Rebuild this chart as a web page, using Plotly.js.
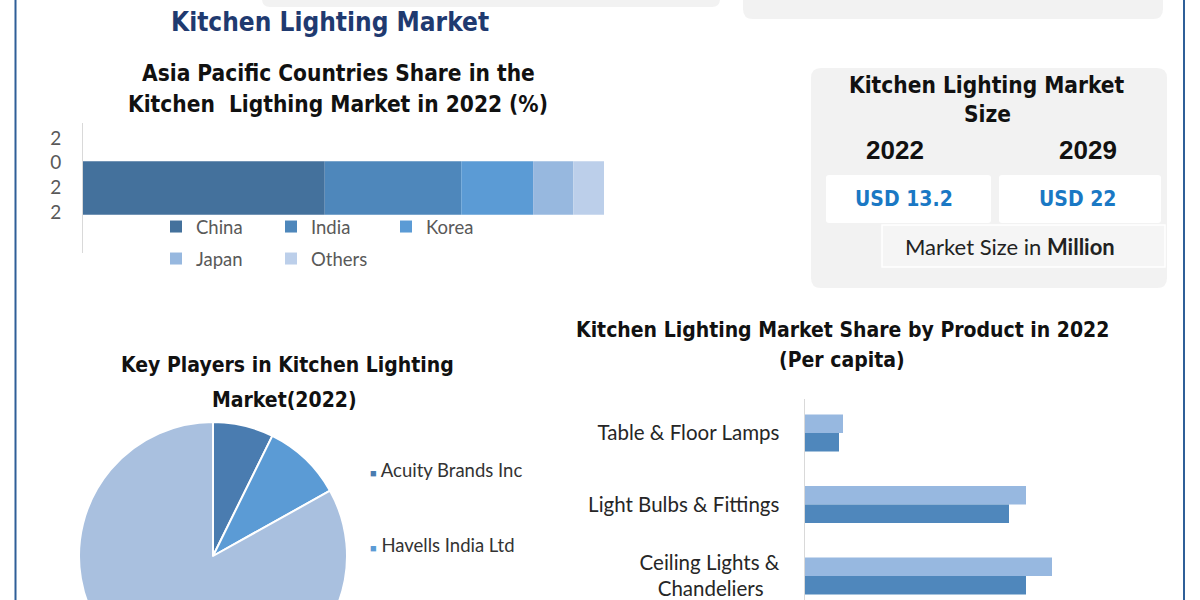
<!DOCTYPE html>
<html>
<head>
<meta charset="utf-8">
<script src="https://cdn.plot.ly/plotly-3.0.1.min.js"></script>
<style>
  html, body { margin: 0; padding: 0; overflow: hidden; background: #fff; }
  #chart { width: 1200px; height: 720px; }
</style>
</head>
<body>
<div id="chart"></div>
<script>
// Asia Pacific share (%) - stacked bar
const countries = ['China', 'India', 'Korea', 'Japan', 'Others'];
const countryShare = [46.4, 26.2, 13.8, 7.7, 5.9];
const countryYear = '2<br>0<br>2<br>2';

// key players pie (only the first two legend rows are visible)
const players = ['Acuity Brands Inc', 'Havells India Ltd', 'Others'];
const playerShare = [7.3, 9.6, 83.1];

// product share bars
const products = ['Table & Floor Lamps', 'Light Bulbs & Fittings', 'Ceiling Lights &<br>Chandeliers\u00a0\u00a0\u00a0'];
const productLight = [1.52, 8.84, 9.88];
const productDark = [1.36, 8.16, 8.84];

// market size box
const sizeYears = ['2022', '2029'];
const sizeValues = ['USD 13.2', 'USD 22'];

const W = 1200, H = 720, VIEW_H = 600;
const fx = p => p / W;
const fy = p => 1 - p / H;

const NARROW = '"Liberation Sans Narrow", "Arial Narrow", "DejaVu Sans Condensed", "Liberation Sans", sans-serif';
const BODY = 'Lato, "Open Sans", sans-serif';

const countryColors = ['#44719c', '#4e87bb', '#5b9bd5', '#97b8df', '#bccfea'];
const pieColors = ['#4a7cb0', '#5b9bd5', '#a9c0df'];

function roundRect(x0, y0, x1, y1, r) {
  const X = fx, Y = fy;
  return 'M' + X(x0 + r) + ',' + Y(y0) +
    ' L' + X(x1 - r) + ',' + Y(y0) +
    ' Q' + X(x1) + ',' + Y(y0) + ' ' + X(x1) + ',' + Y(y0 + r) +
    ' L' + X(x1) + ',' + Y(y1 - r) +
    ' Q' + X(x1) + ',' + Y(y1) + ' ' + X(x1 - r) + ',' + Y(y1) +
    ' L' + X(x0 + r) + ',' + Y(y1) +
    ' Q' + X(x0) + ',' + Y(y1) + ' ' + X(x0) + ',' + Y(y1 - r) +
    ' L' + X(x0) + ',' + Y(y0 + r) +
    ' Q' + X(x0) + ',' + Y(y0) + ' ' + X(x0 + r) + ',' + Y(y0) + ' Z';
}

const traces = [];

let acc = 0;
countries.forEach((c, i) => {
  traces.push({
    type: 'bar', orientation: 'h',
    name: c,
    y: [countryYear], x: [countryShare[i]], base: [acc],
    width: 0.41,
    marker: { color: countryColors[i] },
    xaxis: 'x', yaxis: 'y',
    legend: i < 3 ? 'legend' : 'legend2',
    hoverinfo: 'name+x'
  });
  acc += countryShare[i];
});

traces.push({
  type: 'pie',
  labels: players, values: playerShare,
  sort: false, direction: 'clockwise', rotation: 0,
  textinfo: 'none',
  marker: { colors: pieColors, line: { color: '#ffffff', width: 2 } },
  domain: { x: [fx(79), fx(347)], y: [fy(690), fy(422)] },
  showlegend: false
});

traces.push({
  type: 'bar', orientation: 'h', name: 'Light',
  y: products, x: productLight, width: 0.26, offset: -0.26,
  marker: { color: '#97b8e0' }, xaxis: 'x2', yaxis: 'y2', showlegend: false
});
traces.push({
  type: 'bar', orientation: 'h', name: 'Dark',
  y: products, x: productDark, width: 0.26, offset: 0,
  marker: { color: '#4f87bc' }, xaxis: 'x2', yaxis: 'y2', showlegend: false
});

const annotations = [];
function note(text, x, y, size, opts) {
  annotations.push(Object.assign({
    text: text, x: fx(x), y: fy(y), xref: 'paper', yref: 'paper',
    showarrow: false, xanchor: 'center', yanchor: 'middle',
    font: { family: NARROW, size: size, color: '#111' }
  }, opts || {}));
}

note('<b>Kitchen Lighting Market</b>', 330, 22, 26, { font: { family: NARROW, size: 26, color: '#1f3a70' } });
note('<b>Asia Pacific Countries Share in the</b>', 338, 73, 22.5);
note('<b>Kitchen\u00a0 Ligthing Market in 2022 (%)</b>', 338, 104, 22.5);

note('<b>Kitchen Lighting Market</b>', 987, 85, 22.5);
note('<b>Size</b>', 987, 114, 22.5);
sizeYears.forEach((t, i) => {
  note('<b>' + t + '</b>', [895, 1088][i], 150, 26, { font: { family: '"Liberation Sans", Arial, sans-serif', size: 26, color: '#111' } });
});
sizeValues.forEach((t, i) => {
  note('<b>' + t + '</b>', [904, 1078][i], 199, 20, { font: { family: NARROW, size: 21, color: '#1a78c4' } });
});
note('Market Size in <b>Million</b>', 1010, 246, 22, { font: { family: BODY, size: 22, color: '#222' } });

note('<b>Key Players in Kitchen Lighting</b>', 287, 365, 21);
note('<b>Market(2022)</b>', 284, 400, 21);

note('<b>Kitchen Lighting Market Share by Product in 2022</b>', 842, 330, 21);
note('<b>(Per capita)</b>', 842, 360, 21);

players.forEach((p, i) => {
  const y = 470 + i * 75;
  if (y > VIEW_H - 10) return; // rows below the visible window are not drawn
  note('<span style="color:' + pieColors[i] + ';font-size:11px">\u25a0</span> ' + p,
    368, y, 18.5, { xanchor: 'left', font: { family: BODY, size: 18.5, color: '#333' } });
});

const shapes = [
  { type: 'path', path: roundRect(262, -30, 720, 7, 8), xref: 'paper', yref: 'paper', fillcolor: '#f2f2f2', line: { width: 0 }, layer: 'below' },
  { type: 'path', path: roundRect(743, -30, 1163, 19, 10), xref: 'paper', yref: 'paper', fillcolor: '#f2f2f2', line: { width: 0 }, layer: 'below' },
  { type: 'path', path: roundRect(811, 68, 1167, 288, 10), xref: 'paper', yref: 'paper', fillcolor: '#f2f2f2', line: { width: 0 }, layer: 'below' },
  { type: 'path', path: roundRect(826, 175, 991, 223, 3), xref: 'paper', yref: 'paper', fillcolor: '#ffffff', line: { width: 0 }, layer: 'below' },
  { type: 'path', path: roundRect(999, 175, 1161, 223, 3), xref: 'paper', yref: 'paper', fillcolor: '#ffffff', line: { width: 0 }, layer: 'below' },
  { type: 'rect', x0: fx(882), x1: fx(1165), y0: fy(267), y1: fy(225), xref: 'paper', yref: 'paper', fillcolor: '#f5f5f5', line: { color: '#ffffff', width: 1.5 }, layer: 'below' },
  { type: 'line', x0: fx(15.5), x1: fx(15.5), y0: 0, y1: 1, xref: 'paper', yref: 'paper', line: { color: '#2f5f98', width: 2 } },
  { type: 'line', x0: fx(1184), x1: fx(1184), y0: 0, y1: 1, xref: 'paper', yref: 'paper', line: { color: '#2f5f98', width: 2 } }
];

const legendBase = {
  orientation: 'h', xanchor: 'left', yanchor: 'top',
  entrywidth: 70, entrywidthmode: 'pixels',
  font: { family: BODY, size: 18.5, color: '#595959' },
  bgcolor: 'rgba(0,0,0,0)', itemclick: false, itemdoubleclick: false
};

const layout = {
  width: W, height: H,
  margin: { l: 0, r: 0, t: 0, b: 0 },
  paper_bgcolor: '#ffffff', plot_bgcolor: 'rgba(0,0,0,0)',
  barmode: 'overlay',
  showlegend: true,
  legend: Object.assign({}, legendBase, { x: fx(156), y: fy(208) }),
  legend2: Object.assign({}, legendBase, { x: fx(156), y: fy(240) }),
  xaxis: {
    domain: [fx(83), fx(604)], range: [0, 100],
    showgrid: false, zeroline: false, showline: false, showticklabels: false, fixedrange: true
  },
  yaxis: {
    domain: [fy(253), fy(123)], type: 'category', range: [-0.5, 0.5],
    showgrid: false, zeroline: false, showline: true, linecolor: '#d9d9d9', linewidth: 1,
    ticks: '', ticklabelstandoff: 17, ticklabelshift: -13,
    tickfont: { family: BODY, size: 19, color: '#595959' }, fixedrange: true
  },
  xaxis2: {
    domain: [fx(805), fx(1105)], range: [0, 12], anchor: 'y2',
    showgrid: false, zeroline: false, showline: false, showticklabels: false, fixedrange: true
  },
  yaxis2: {
    domain: [0, fy(399)], type: 'category', anchor: 'x2',
    range: [(720 - 433) / 71.5, (399 - 433) / 71.5],
    showgrid: false, zeroline: false, showline: true, linecolor: '#d9d9d9', linewidth: 1.5,
    ticks: '', ticklabelstandoff: 20,
    tickfont: { family: BODY, size: 20.5, color: '#262626' }, fixedrange: true
  },
  shapes: shapes,
  annotations: annotations
};

Plotly.newPlot('chart', traces, layout, { displayModeBar: false, staticPlot: true });
</script>
</body>
</html>
